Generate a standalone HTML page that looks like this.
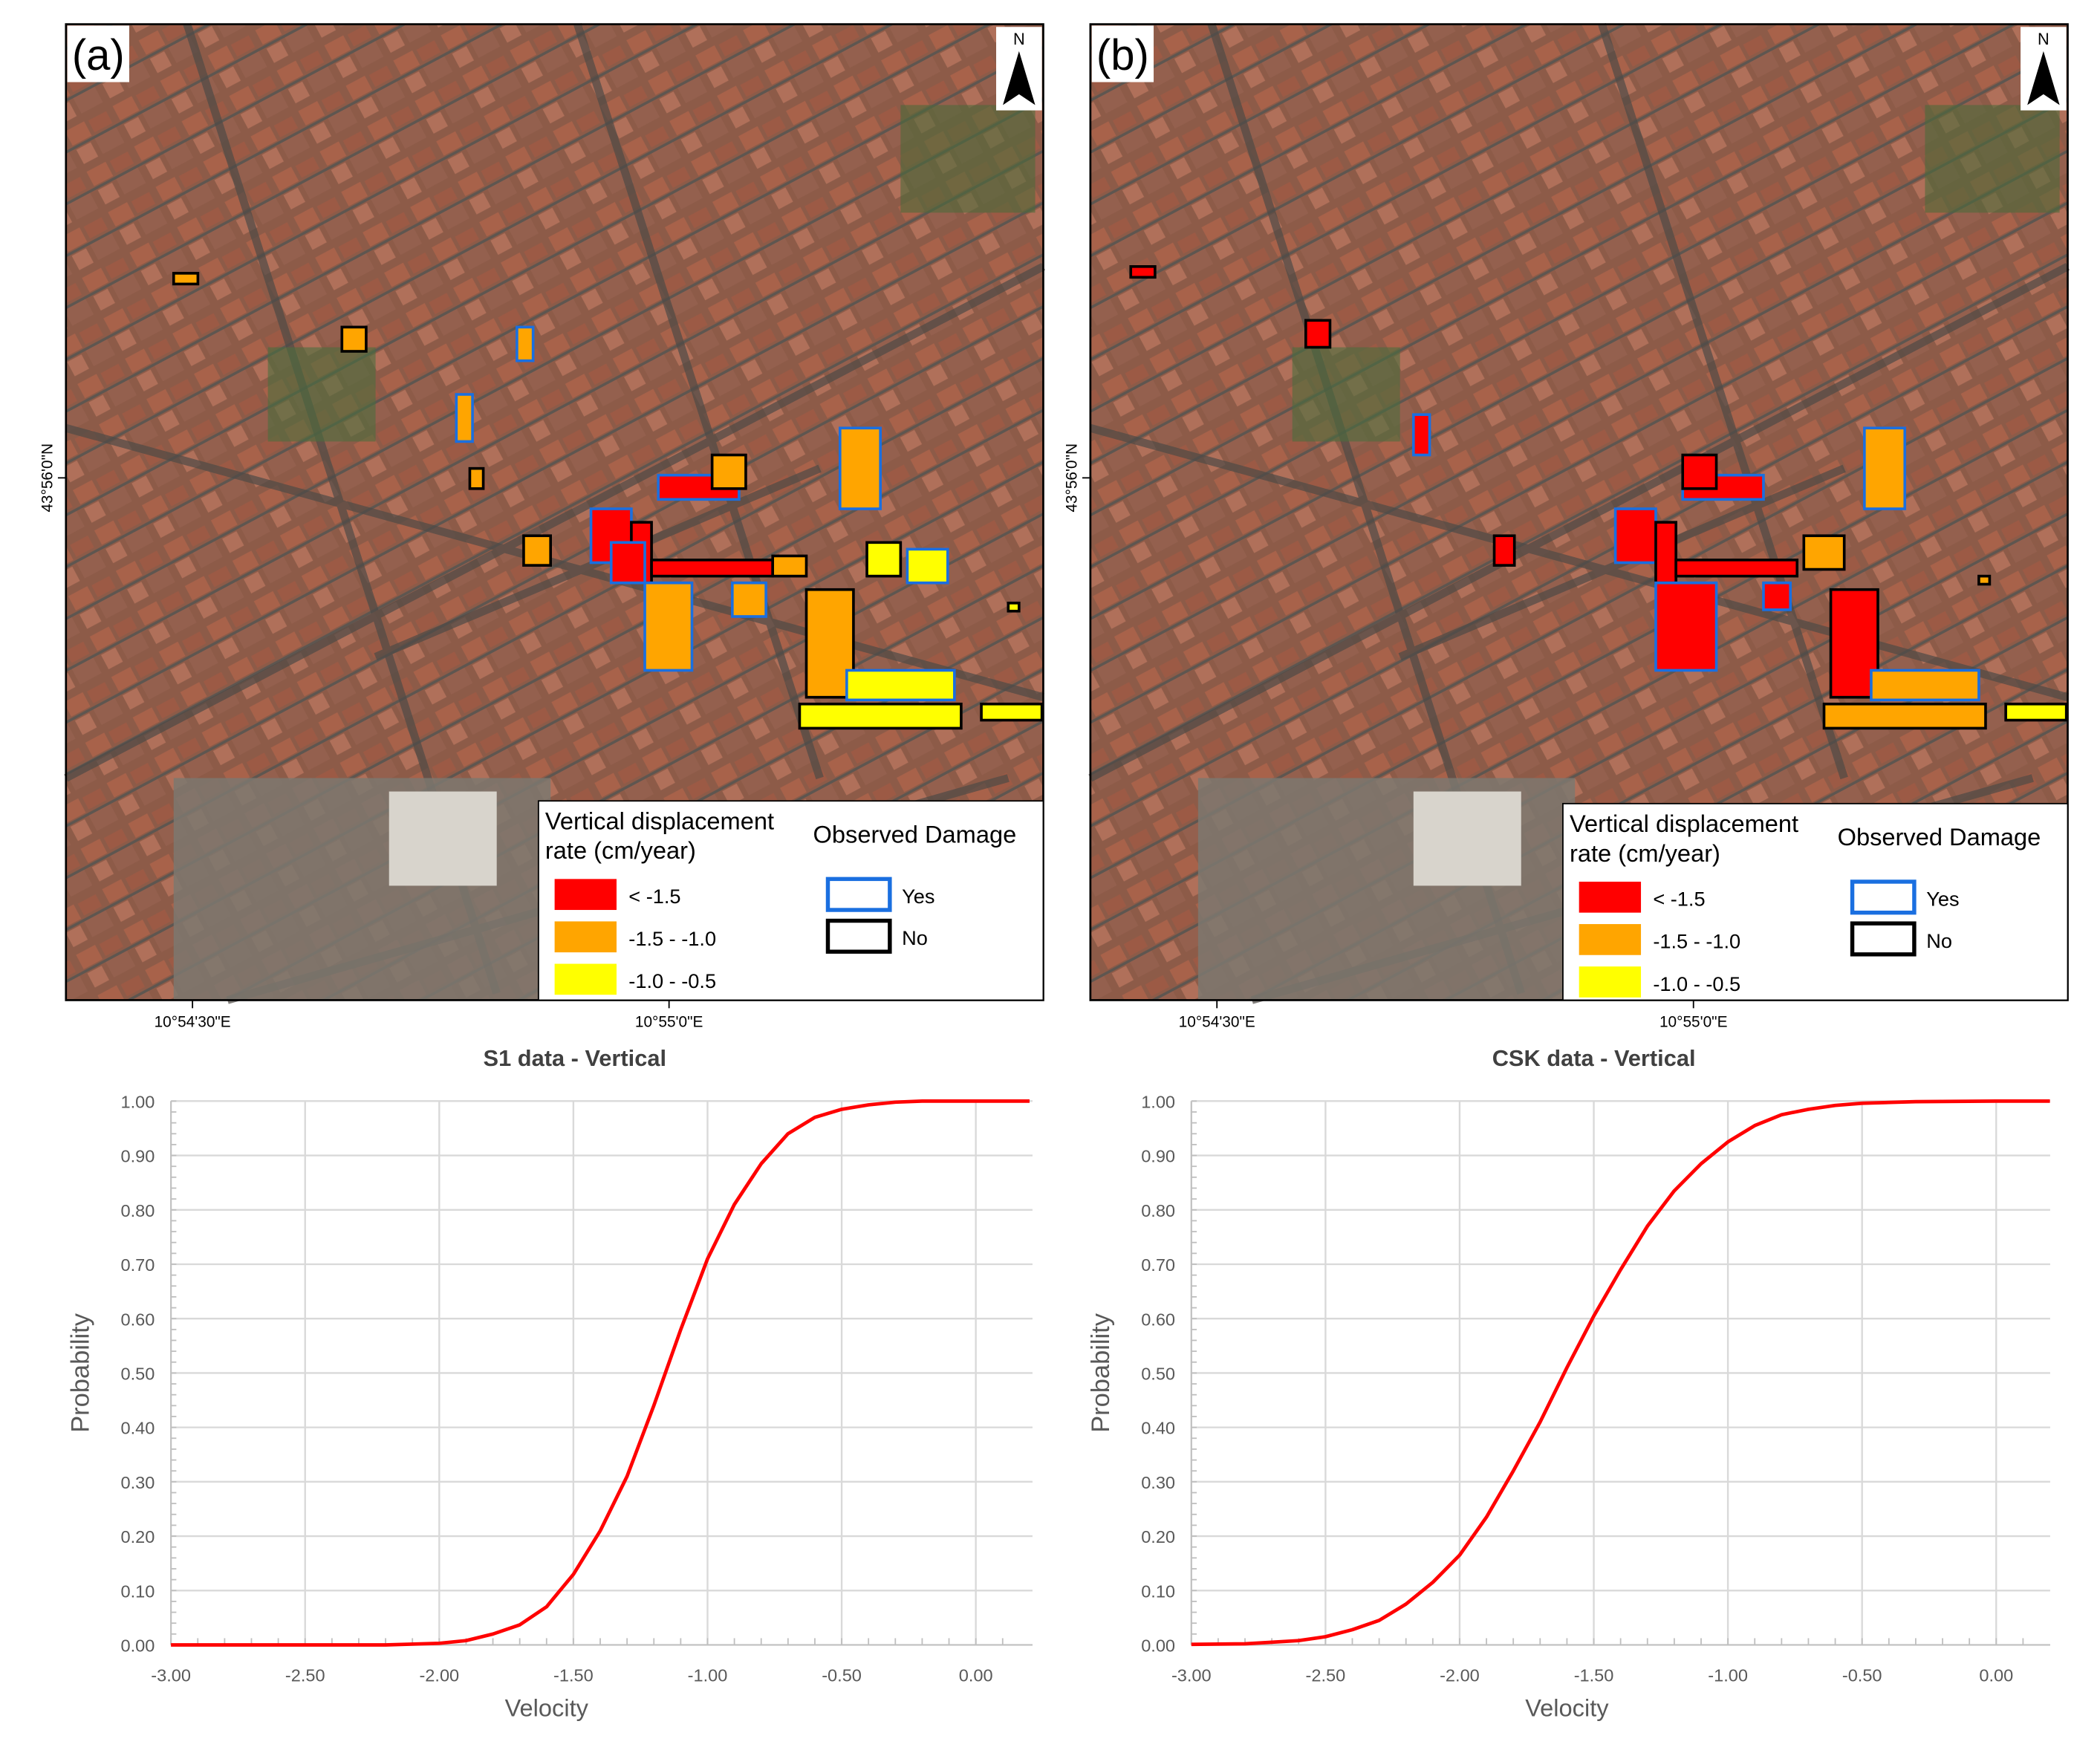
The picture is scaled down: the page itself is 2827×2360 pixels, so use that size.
<!DOCTYPE html>
<html><head><meta charset="utf-8"><style>
html,body{margin:0;padding:0;background:#fff}
svg{display:block}
text{font-family:"Liberation Sans",sans-serif}
</style></head><body>
<svg id="fig" width="2827" height="2360" viewBox="0 0 1560 1302.3" xmlns="http://www.w3.org/2000/svg">
<defs>
<pattern id="city" width="40" height="34" patternUnits="userSpaceOnUse" patternTransform="rotate(-28)">
<rect width="40" height="34" fill="#8d5b48"/>
<rect x="2" y="2" width="16" height="12" fill="#a8624a"/>
<rect x="21" y="3" width="15" height="10" fill="#9c5a45"/>
<rect x="3" y="18" width="12" height="12" fill="#b0705a"/>
<rect x="19" y="17" width="18" height="13" fill="#94604e"/>
<rect x="0" y="15" width="40" height="2" fill="#5e5650"/>
</pattern>
</defs>
<g id="maps"></g>
<g id="charts"></g>
</svg>
<script>
// ---- chart data ----
const s1Velocity=[-3.0,-2.5,-2.2,-2.0,-1.9,-1.8,-1.7,-1.6,-1.5,-1.4,-1.3,-1.2,-1.1,-1.0,-0.9,-0.8,-0.7,-0.6,-0.5,-0.4,-0.3,-0.2,0.0,0.2];
const s1Prob=[0,0,0,0.003,0.008,0.02,0.037,0.07,0.13,0.21,0.31,0.44,0.58,0.71,0.81,0.885,0.94,0.97,0.985,0.993,0.998,1,1,1];
const cskVelocity=[-3.0,-2.8,-2.6,-2.5,-2.4,-2.3,-2.2,-2.1,-2.0,-1.9,-1.8,-1.7,-1.6,-1.5,-1.4,-1.3,-1.2,-1.1,-1.0,-0.9,-0.8,-0.7,-0.6,-0.5,-0.3,0.0,0.2];
const cskProb=[0.001,0.002,0.008,0.015,0.028,0.045,0.075,0.115,0.165,0.235,0.32,0.41,0.51,0.605,0.69,0.77,0.835,0.885,0.925,0.955,0.975,0.985,0.992,0.996,0.999,1,1];
const xTicks=[-3,-2.5,-2,-1.5,-1,-0.5,0];
const xTickLabels=["-3.00","-2.50","-2.00","-1.50","-1.00","-0.50","0.00"];
const yTicks=[0,0.1,0.2,0.3,0.4,0.5,0.6,0.7,0.8,0.9,1.0];
const yTickLabels=["0.00","0.10","0.20","0.30","0.40","0.50","0.60","0.70","0.80","0.90","1.00"];
const chartTitles=["S1 data - Vertical","CSK data - Vertical"];

const NS="http://www.w3.org/2000/svg";
function mk(tag,attrs,parent){const e=document.createElementNS(NS,tag);for(const k in attrs)e.setAttribute(k,attrs[k]);parent.appendChild(e);return e;}

// ---- maps ----
const maps=document.getElementById('maps');
const shapes=[
 // [x,y,w,h,fill,stroke] in map-local coords
 [390,360,30,40,'#f00','#1a6fe0'],[420,370,15,45,'#f00','#000'],[435,398,90,12,'#f00','#000'],[440,335,60,18,'#f00','#1a6fe0'],
 [405,385,25,30,'#f00','#1a6fe0'],[480,320,25,25,'#ffa500','#000'],[525,395,25,15,'#ffa500','#000'],
 [430,415,35,65,'#ffa500','#1a6fe0'],[495,415,25,25,'#ffa500','#1a6fe0'],[550,420,35,80,'#ffa500','#000'],
 [575,300,30,60,'#ffa500','#1a6fe0'],[595,385,25,25,'#ffff00','#000'],[625,390,30,25,'#ffff00','#1a6fe0'],
 [580,480,80,22,'#ffff00','#1a6fe0'],[545,505,120,18,'#ffff00','#000'],[680,505,45,12,'#ffff00','#000'],
 [205,225,18,18,'#ffa500','#000'],[340,380,20,22,'#ffa500','#000'],[290,275,12,35,'#ffa500','#1a6fe0'],
 [300,330,10,15,'#ffa500','#000'],[335,225,12,25,'#ffa500','#1a6fe0'],[80,185,18,8,'#ffa500','#000'],[700,430,8,6,'#ffff00','#000']
];
const bShapes=[[390,360,30,40,'#f00','#1a6fe0'],[420,370,15,45,'#f00','#000'],[435,398,90,12,'#f00','#000'],[440,335,60,18,'#f00','#1a6fe0'],
 [440,320,25,25,'#f00','#000'],[420,415,45,65,'#f00','#1a6fe0'],[500,415,20,20,'#f00','#1a6fe0'],[550,420,35,80,'#f00','#000'],
 [575,300,30,60,'#ffa500','#1a6fe0'],[530,380,30,25,'#ffa500','#000'],[580,480,80,22,'#ffa500','#1a6fe0'],[545,505,120,18,'#ffa500','#000'],
 [680,505,45,12,'#ffff00','#000'],[160,220,18,20,'#f00','#000'],[300,380,15,22,'#f00','#000'],[240,290,12,30,'#f00','#1a6fe0'],
 [30,180,18,8,'#f00','#000'],[660,410,8,6,'#ffa500','#000']];
function drawMap(ox,letter,list,legY){
  const g=mk('g',{transform:`translate(${ox},18)`},maps);
  
  
  mk('rect',{x:0,y:0,width:726,height:725,fill:'url(#city)'},g);
  // streets / parks / gray zones
  mk('path',{d:'M0 560 L726 180 M230 470 L560 330 M90 0 L320 720 M380 0 L560 560 M0 300 L726 500 M120 725 L700 560',stroke:'#4f4a46','stroke-width':6,fill:'none',opacity:0.7},g);
  mk('rect',{x:370,y:660,width:70,height:60,fill:'#3f6a38',opacity:0.8},g);
  mk('rect',{x:620,y:60,width:100,height:80,fill:'#4d6b3a',opacity:0.6},g);
  mk('rect',{x:150,y:240,width:80,height:70,fill:'#4b6e3d',opacity:0.6},g);
  mk('rect',{x:80,y:560,width:280,height:165,fill:'#7d7870',opacity:0.85},g);
  mk('rect',{x:240,y:570,width:80,height:70,fill:'#d8d4cc'},g);
  for(const s of list){const r=mk('rect',{x:s[0],y:s[1],width:s[2],height:s[3],fill:s[4],stroke:s[5],'stroke-width':2},g);
    
    }
  mk('rect',{x:0,y:0,width:726,height:725,fill:'none',stroke:'#000','stroke-width':1.5},g);
  // panel label
  mk('rect',{x:1,y:1,width:46,height:42,fill:'#fff'},g);
  const lt=mk('text',{x:24,y:34,'font-size':32,'text-anchor':'middle'},g);lt.textContent='('+letter+')';
  
  
  // north arrow
  const na=mk('g',{},g);
  
  
  mk('rect',{x:691,y:2,width:34,height:62,fill:'#fff'},na);
  const nt=mk('text',{x:708,y:15,'font-size':12,'text-anchor':'middle','font-family':'Liberation Serif'},na);nt.textContent='N';
  mk('path',{d:'M708 20 L696 60 L708 52 L720 60 Z',fill:'#000'},na);
  // legend
  const lg=mk('g',{transform:`translate(351,${legY})`},g);
  
  
  mk('rect',{x:0,y:0,width:375,height:725-legY,fill:'#fff',stroke:'#000','stroke-width':1},lg);
  let t=mk('text',{x:5,y:21,'font-size':18},lg);t.textContent='Vertical displacement';
  t=mk('text',{x:5,y:43,'font-size':18},lg);t.textContent='rate (cm/year)';
  t=mk('text',{x:204,y:31,'font-size':18},lg);t.textContent='Observed Damage';
  const cls=[['#f00','< -1.5'],['#ffa500','-1.5 - -1.0'],['#ffff00','-1.0 - -0.5']];
  cls.forEach((c,i)=>{mk('rect',{x:12,y:58+i*31.5,width:46,height:23,fill:c[0]},lg);
    const tt=mk('text',{x:67,y:76+i*31.5,'font-size':15},lg);tt.textContent=c[1];});
  mk('rect',{x:215,y:58,width:46,height:23,fill:'none',stroke:'#1a6fe0','stroke-width':3},lg);
  t=mk('text',{x:270,y:76,'font-size':15},lg);t.textContent='Yes';
  mk('rect',{x:215,y:89,width:46,height:23,fill:'none',stroke:'#000','stroke-width':3},lg);
  t=mk('text',{x:270,y:107,'font-size':15},lg);t.textContent='No';
  // coordinates
  [[94,'10°54\'30"E'],[448,'10°55\'0"E']].forEach(c=>{mk('line',{x1:c[0],y1:725,x2:c[0],y2:731,stroke:'#000'},g);
    const ct=mk('text',{x:c[0],y:745,'font-size':11.5,'text-anchor':'middle'},g);ct.textContent=c[1];});
  mk('line',{x1:-6,y1:337,x2:0,y2:337,stroke:'#000'},g);
  const ct=mk('text',{x:0,y:0,'font-size':11.5,'text-anchor':'middle',transform:`translate(-10,337) rotate(-90)`},g);ct.textContent='43°56\'0"N';
}
drawMap(49,'a',shapes,577);
drawMap(810,'b',bShapes,579);

// ---- charts ----
const charts=document.getElementById('charts');
function drawChart(x0,xRight,title,vel,prob,name){
  const top=818,bottom=1222,unit=(x0- (x0))+199.3;
  const sx=v=>x0+(v+3)*unit, sy=p=>bottom-p*(bottom-top);
  const g=mk('g',{},charts);
  
  
  const cx=(x0+xRight)/2;
  const tt=mk('text',{x:cx-20,y:792,'font-size':17,'font-weight':'bold','text-anchor':'middle',fill:'#404040'},g);tt.textContent=title;
  
  
  yTicks.forEach((v,i)=>{mk('line',{x1:x0,x2:xRight,y1:sy(v),y2:sy(v),stroke:'#d9d9d9','stroke-width':1.3},g);
    const l=mk('text',{x:x0-12,y:sy(v)+5,'font-size':13,'text-anchor':'end',fill:'#595959'},g);l.textContent=yTickLabels[i];
    
    });
  xTicks.forEach((v,i)=>{mk('line',{x1:sx(v),x2:sx(v),y1:top,y2:bottom,stroke:'#d9d9d9','stroke-width':1.3},g);
    const l=mk('text',{x:sx(v),y:1249,'font-size':13,'text-anchor':'middle',fill:'#595959'},g);l.textContent=xTickLabels[i];
    
    });
  for(let v=-3;v<=0.2;v+=0.1){mk('line',{x1:sx(v),x2:sx(v),y1:bottom,y2:bottom-5,stroke:'#bfbfbf'},g);}
  for(let p=0;p<=1.001;p+=0.02){mk('line',{x1:x0,x2:x0+4,y1:sy(p),y2:sy(p),stroke:'#bfbfbf'},g);}
  mk('line',{x1:x0,x2:x0,y1:top,y2:bottom,stroke:'#bfbfbf'},g);
  mk('line',{x1:x0,x2:xRight,y1:bottom,y2:bottom,stroke:'#bfbfbf'},g);
  const d=vel.map((v,i)=>(i?'L':'M')+sx(v).toFixed(1)+' '+sy(prob[i]).toFixed(1)).join(' ');
  const path=mk('path',{d:d,fill:'none',stroke:'#ff0000','stroke-width':2.6,'stroke-linejoin':'round'},g);
  
  
  const xl=mk('text',{x:sx(-1.6),y:1275,'font-size':18,'text-anchor':'middle',fill:'#595959'},g);xl.textContent='Velocity';
  
  
  const yl=mk('text',{x:0,y:0,'font-size':19,'text-anchor':'middle',fill:'#595959',transform:`translate(${x0-61},1020) rotate(-90)`},g);yl.textContent='Probability';
  
  
}
drawChart(127,767,chartTitles[0],s1Velocity,s1Prob,'s1-chart');
drawChart(885,1523,chartTitles[1],cskVelocity,cskProb,'csk-chart');
</script>
</body></html>
